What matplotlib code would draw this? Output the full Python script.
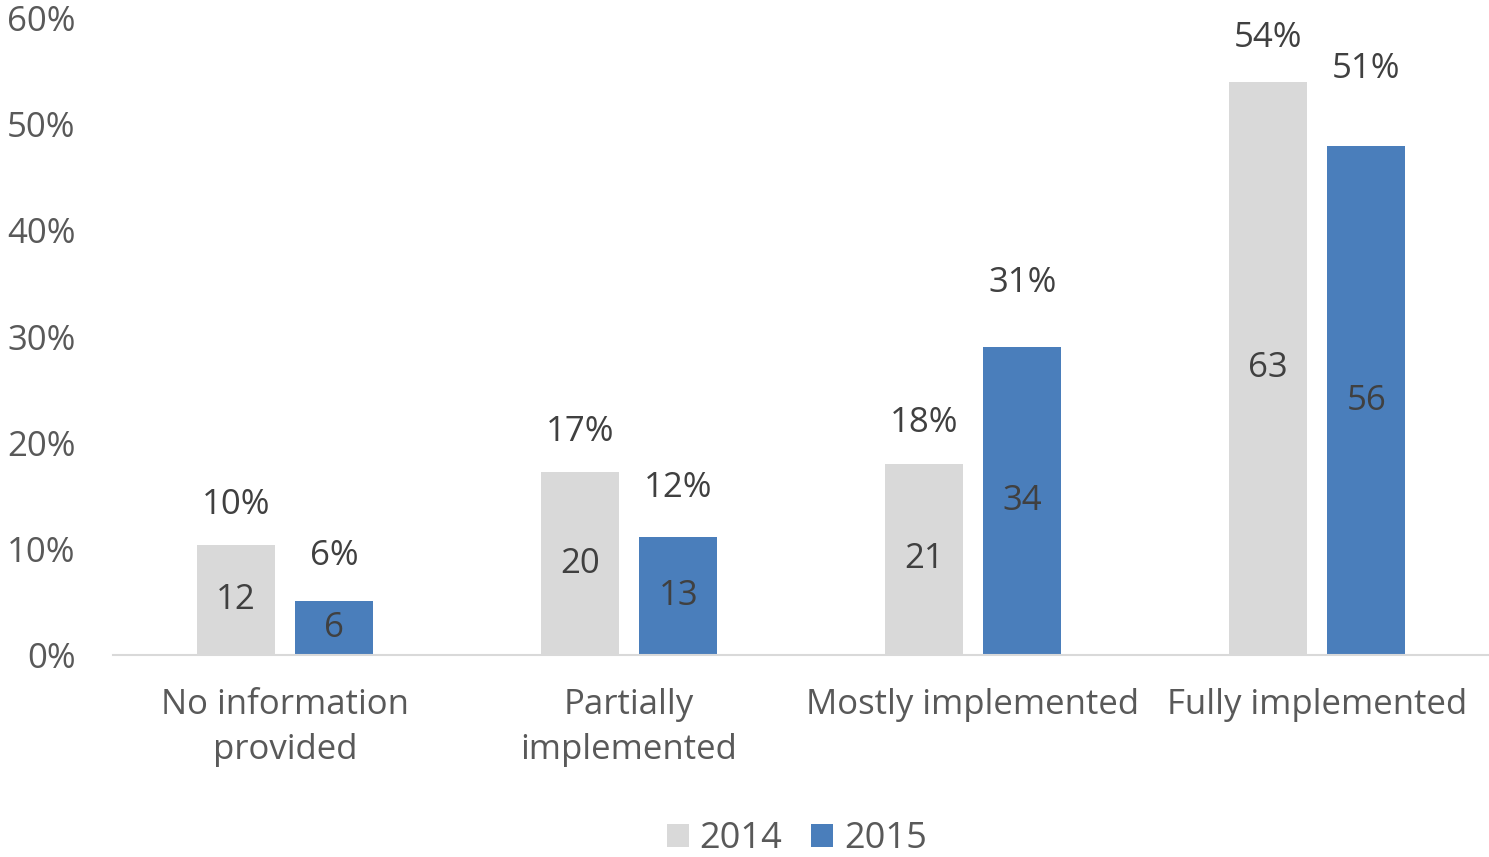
import matplotlib
matplotlib.use("Agg")
import matplotlib.pyplot as plt
import numpy as np

categories = ["No information\nprovided", "Partially\nimplemented",
              "Mostly implemented", "Fully implemented"]
years = ["2014", "2015"]
# bar heights as drawn (percent)
share_2014 = [10.4, 17.2, 18.0, 54.0]
share_2015 = [5.1, 11.1, 29.0, 47.9]
# percent labels (share of each year's total)
pct_2014 = [10.3, 17.2, 18.1, 54.3]
pct_2015 = [5.5, 11.9, 31.2, 51.4]
count_2014 = [12, 20, 21, 63]
count_2015 = [6, 13, 34, 56]

plt.rcParams['font.family'] = ['Open Sans', 'DejaVu Sans']
txt = '#595959'
inner = '#404040'
colors = ['#D9D9D9', '#4A7EBB']
fs = 25

fig = plt.figure(figsize=(14.89, 8.57), dpi=100)
ax = fig.add_axes([113 / 1489, 1 - 655 / 857, 1 - 113 / 1489, (655 - 18) / 857])

x = np.arange(len(categories))
w = 0.225
off = 0.143
series = [(share_2014, pct_2014, count_2014), (share_2015, pct_2015, count_2015)]
for i, (vals, pcts, counts) in enumerate(series):
    xs = x + (-off if i == 0 else off)
    bars = ax.bar(xs, vals, width=w, color=colors[i], label=years[i])
    for b, p, c in zip(bars, pcts, counts):
        h = b.get_height()
        cx = b.get_x() + b.get_width() / 2
        ax.annotate('%d%%' % round(p), (cx, p), xytext=(0, 29), textcoords='offset points',
                    ha='center', va='center', fontsize=fs, color=inner)
        ax.text(cx, h / 2, str(c), ha='center', va='center', fontsize=fs, color=inner)

ax.set_xlim(-0.5, 3.5)
ax.set_ylim(0, 60)
ax.set_yticks(range(0, 61, 10))
ax.set_yticklabels(['%d%%' % v for v in range(0, 61, 10)])
ax.set_xticks(x)
ax.set_xticklabels(categories, linespacing=1.4)
for s in ['top', 'right', 'left']:
    ax.spines[s].set_visible(False)
ax.spines['bottom'].set_color('#D9D9D9')
ax.spines['bottom'].set_linewidth(1.5)
ax.tick_params(axis='y', length=0, pad=27, labelsize=fs, labelcolor=txt)
ax.tick_params(axis='x', length=0, pad=24, labelsize=fs, labelcolor=txt)

fig.legend(loc='center', bbox_to_anchor=(797 / 1489, 1 - 839 / 857), ncol=2, frameon=False,
           fontsize=fs + 1, labelcolor=txt, handlelength=0.6, handleheight=0.6,
           handletextpad=0.3, columnspacing=0.8, borderpad=0)

fig.savefig('out.png', dpi=100)
